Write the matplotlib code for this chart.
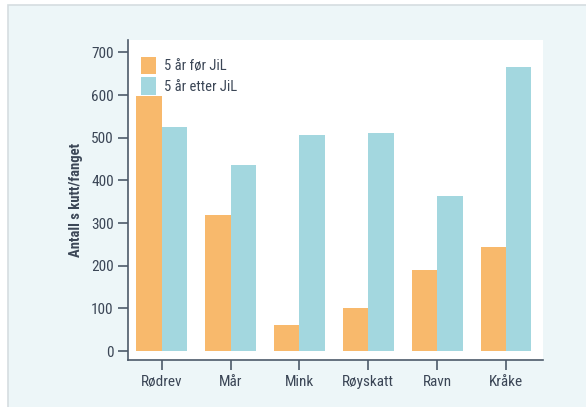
import matplotlib
matplotlib.use("Agg")
import matplotlib.pyplot as plt
import numpy as np
from matplotlib.patches import Rectangle
from matplotlib import font_manager

# pick a condensed sans font if one is available
cands = []
for f in font_manager.fontManager.ttflist:
    st = str(f.stretch)
    if ("Narrow" in f.name or "Condensed" in f.name or st in
            ("condensed", "semi-condensed", "extra-condensed", "ultra-condensed")
            or (isinstance(f.stretch, int) and f.stretch < 500)):
        cands.append((f.name, f.stretch))
pref = ["Liberation Sans Narrow", "Roboto Condensed", "Open Sans Condensed",
        "Noto Sans Condensed", "DejaVu Sans"]
fam, stretch = "DejaVu Sans", "normal"
for p in pref:
    hit = [c for c in cands if c[0] == p]
    if hit:
        fam, stretch = hit[0]
        break
else:
    if cands:
        fam, stretch = cands[0]
plt.rcParams['font.family'] = [fam, 'DejaVu Sans']
plt.rcParams['font.stretch'] = stretch

categories = ["Rødrev", "Mår", "Mink", "Røyskatt", "Ravn", "Kråke"]
before = [598, 320, 62, 101, 191, 244]
after = [526, 437, 506, 512, 363, 666]
series_labels = ["5 år før JiL", "5 år etter JiL"]
yticks = [0, 100, 200, 300, 400, 500, 600, 700]

c_before = "#f8b96c"
c_after = "#a3d7df"
txt = "#3b4656"
spine_c = "#4d5a6a"

fig = plt.figure(figsize=(5.86, 4.07), dpi=100)
fig.patch.set_facecolor("white")
bg = Rectangle((8 / 586, -0.1), 1.1, 1.1 - 5 / 407, transform=fig.transFigure,
               facecolor="#edf6f8", edgecolor="#d5dde0", linewidth=1.2, zorder=-10)
fig.patches.append(bg)

ax = fig.add_axes([128.3 / 586, 1 - 360 / 407, (543 - 128.3) / 586, (360 - 40) / 407])
ax.set_zorder(5)
ax.set_facecolor("white")
x = np.arange(len(categories))
w = 0.37
ax.bar(x - w / 2, before, w, color=c_before, label=series_labels[0])
ax.bar(x + w / 2, after, w, color=c_after, label=series_labels[1])

ax.set_xlim(-0.485, 5.537)
ax.set_ylim(-21, 729)
ax.set_yticks(yticks)
ax.set_xticks(x)
ax.set_xticklabels(categories)
for s in ["top", "right"]:
    ax.spines[s].set_visible(False)
for s in ["left", "bottom"]:
    ax.spines[s].set_color(spine_c)
    ax.spines[s].set_linewidth(1.2)
ax.tick_params(axis="both", colors=spine_c, length=7, width=1.2, labelsize=11,
               labelcolor=txt)
ax.set_ylabel("Antall s kutt/fanget", fontsize=10.5, fontweight="bold", color=txt,
              labelpad=6)

leg = ax.legend(loc="upper left", frameon=False, fontsize=10.5, handlelength=1.05,
                handleheight=1.45, handletextpad=0.55, labelspacing=0.2,
                borderaxespad=0.0, borderpad=0.0,
                bbox_to_anchor=((141 - 128.3) / (543 - 128.3), (360 - 57) / 320))
for t in leg.get_texts():
    t.set_color(txt)

fig.savefig("out.png", dpi=100, facecolor=fig.get_facecolor())
